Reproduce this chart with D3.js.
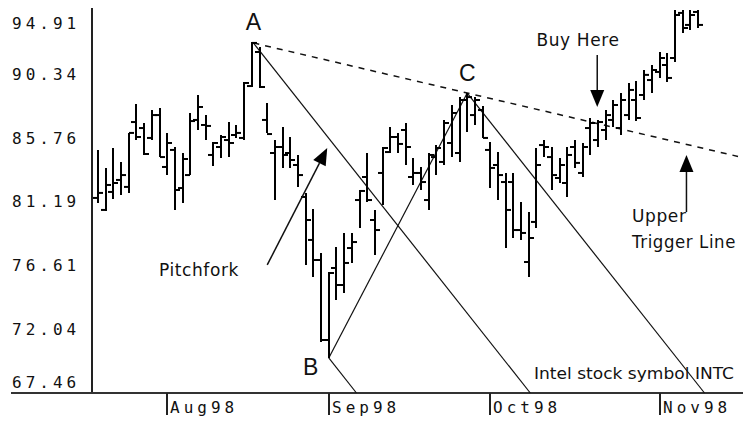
<!DOCTYPE html>
<html>
<head>
<meta charset="utf-8">
<script src="https://cdn.jsdelivr.net/npm/d3@7"></script>
<style>
  body { margin: 0; background: #fff; }
  .tickText { font-family: "DejaVu Sans Mono", monospace; font-size: 16px; letter-spacing: 4px; fill: #111; }
  .note { font-family: "DejaVu Sans", sans-serif; font-size: 17px; letter-spacing: 0.6px; fill: #111; }
  .pivot { font-family: "Liberation Sans", Arial, sans-serif; font-size: 23px; fill: #111; }
</style>
</head>
<body>
<div class="chart"></div>
<script>
var svgWidth = 743;
var svgHeight = 421;

// daily INTC bars, Jul 21 - Nov 9 1998
var opens = [81.44, 80.58, 81.87, 82.73, 82.23, 86.88, 86.45, 85.74, 87.38, 83.66,
  84.88, 82.15, 83.08, 87.03, 86.67, 84.52, 85.09, 85.59, 85.95, 85.74,
  89.46, 91.90, 87.03, 84.66, 85.09, 84.66, 83.80, 81.51, 78.43, 76.99,
  71.26, 76.42, 75.20, 77.85, 81.29, 82.94, 79.86, 83.23, 84.73, 85.81,
  86.31, 82.94, 83.23, 81.29, 84.37, 84.02, 85.38, 84.66, 88.46, 87.38,
  87.74, 84.88, 83.80, 82.58, 82.58, 79.14, 76.85, 79.72, 85.23, 84.37,
  82.87, 82.51, 85.09, 83.23, 86.45, 85.59,
  86.31, 87.03, 86.45, 87.38, 88.46, 88.82, 89.89, 90.47, 90.97, 91.47, 94.70, 93.84, 94.77];
var highs = [84.88, 83.59, 85.02, 84.02, 86.10, 88.17, 86.81, 87.74, 87.89, 86.10,
  85.09, 84.66, 87.53, 88.82, 87.38, 85.45, 85.95, 86.88, 86.67, 89.75,
  92.62, 92.26, 88.24, 85.59, 86.52, 85.81, 84.52, 81.80, 80.65, 77.50,
  76.13, 77.92, 78.93, 78.93, 82.01, 84.66, 80.58, 85.09, 86.52, 86.10,
  86.81, 84.30, 83.66, 84.66, 85.23, 87.03, 88.10, 88.67, 88.96, 88.67,
  88.03, 85.45, 84.73, 83.23, 83.23, 81.15, 80.44, 85.02, 85.59, 85.09,
  84.30, 85.09, 85.59, 85.38, 87.17, 87.03,
  87.74, 88.46, 88.96, 89.68, 89.82, 90.61, 90.97, 91.90, 91.83, 94.91, 94.91, 94.91, 94.91];
var lows = [81.08, 80.51, 81.36, 81.65, 81.80, 85.59, 84.52, 85.59, 84.37, 83.08,
  80.58, 81.08, 83.08, 86.31, 85.59, 83.73, 84.30, 84.37, 85.74, 85.59,
  89.39, 89.32, 86.10, 81.29, 83.59, 83.59, 82.23, 76.64, 75.78, 71.12,
  69.97, 74.13, 74.63, 76.78, 79.29, 81.15, 77.35, 80.94, 84.66, 84.66,
  83.80, 82.37, 82.01, 80.58, 83.08, 83.80, 84.37, 84.02, 86.17, 86.67,
  85.74, 82.15, 81.29, 77.85, 78.57, 78.43, 75.78, 79.29, 84.37, 82.01,
  82.51, 81.51, 83.59, 82.94, 84.52, 85.09,
  85.59, 86.52, 85.95, 87.03, 86.95, 88.46, 88.96, 90.04, 89.75, 91.19, 93.26, 93.48, 93.62];
var closes = [81.80, 82.37, 82.51, 83.08, 86.10, 85.81, 84.59, 87.38, 84.37, 85.38,
  82.01, 84.23, 86.95, 87.96, 86.60, 85.38, 85.81, 85.38, 86.10, 89.68,
  92.55, 89.39, 86.02, 85.09, 84.52, 84.16, 83.08, 79.86, 76.99, 71.26,
  76.06, 75.20, 76.78, 78.28, 81.94, 81.29, 79.14, 85.02, 85.81, 85.31,
  85.09, 83.23, 82.58, 84.52, 85.02, 86.81, 87.53, 88.46, 88.67, 88.46,
  85.74, 83.59, 83.08, 80.58, 79.14, 78.93, 78.57, 83.80, 85.09, 83.08,
  83.80, 84.52, 83.95, 85.09, 86.81, 86.88,
  87.38, 88.10, 88.46, 89.18, 87.17, 90.26, 90.61, 91.47, 90.04, 94.55, 93.62, 94.55, 93.84];

var monthLabels = ["Aug98", "Sep98", "Oct98", "Nov98"];
var monthStarts = [9, 30, 51, 73];
var yTicks = [94.91, 90.34, 85.76, 81.19, 76.61, 72.04, 67.46];

// pitchfork pivots (bar index, price)
var pivotNames = ["A", "B", "C"];
var pivotIndex = [20.2, 30, 48];
var pivotPrice = [92.55, 69.97, 88.96];
var tineSlope = -0.697;   // price per bar
var triggerEndIndex = 83.2;

var bars = opens.map(function(o, i) {
  return {i: i, open: o, high: highs[i], low: lows[i], close: closes[i]};
});

var svg = d3.select(".chart")
  .append("svg")
  .attr("width", svgWidth)
  .attr("height", svgHeight);

var x = d3.scaleLinear().domain([0, 78]).range([98, 698]);
var y = d3.scaleLinear().domain([67.46, 94.91]).range([393, 10]);

// axes
svg.append("line").attr("x1", 92).attr("x2", 92).attr("y1", 8).attr("y2", 393)
  .attr("stroke", "#222").attr("stroke-width", 2);
svg.append("line").attr("x1", 11).attr("x2", 743).attr("y1", 393).attr("y2", 393)
  .attr("stroke", "#333").attr("stroke-width", 2);

svg.selectAll(".ytick")
  .data(yTicks)
  .enter()
  .append("text")
  .attr("class", "tickText")
  .attr("x", 12)
  .attr("y", d => Math.min(Math.max(y(d), 23), 382) + 6)
  .text(d => d.toFixed(2));

var months = svg.selectAll(".month")
  .data(monthStarts)
  .enter()
  .append("g")
  .attr("transform", d => `translate(${Math.round(x(d))}, 393)`);
months.append("line").attr("y1", 0).attr("y2", 22).attr("stroke", "#222").attr("stroke-width", 2);
months.append("text").attr("class", "tickText").attr("x", 3).attr("y", 20)
  .text((d, i) => monthLabels[i]);

// pitchfork lines
var lines = svg.append("g").attr("stroke", "#111").attr("fill", "none");
var P = pivotNames.map((n, k) => ({name: n, i: pivotIndex[k], v: pivotPrice[k]}));

P.forEach(function(p) {
  var endI = p.i + (67.46 - p.v) / tineSlope;
  lines.append("line")
    .attr("x1", x(p.i)).attr("y1", y(p.v))
    .attr("x2", x(endI)).attr("y2", y(67.46))
    .attr("stroke-width", 1.2);
});

lines.append("line")
  .attr("x1", x(P[1].i)).attr("y1", y(P[1].v))
  .attr("x2", x(P[2].i)).attr("y2", y(P[2].v))
  .attr("stroke-width", 1.2);

var trigSlope = (P[2].v - P[0].v) / (P[2].i - P[0].i);
lines.append("line")
  .attr("x1", x(P[0].i)).attr("y1", y(P[0].v))
  .attr("x2", x(triggerEndIndex)).attr("y2", y(P[0].v + trigSlope * (triggerEndIndex - P[0].i)))
  .attr("stroke-width", 1.5)
  .attr("stroke-dasharray", "6,6");

// OHLC bars
var barG = svg.append("g").attr("stroke", "#000").attr("stroke-width", 2);
var bar = barG.selectAll("g")
  .data(bars)
  .enter()
  .append("g")
  .attr("transform", d => `translate(${Math.round(x(d.i))}, 0)`);
bar.append("line").attr("y1", d => y(d.high)).attr("y2", d => y(d.low));
bar.append("line").attr("x1", -5).attr("x2", 0).attr("y1", d => y(d.open)).attr("y2", d => y(d.open));
bar.append("line").attr("x1", 0).attr("x2", 5).attr("y1", d => y(d.close)).attr("y2", d => y(d.close));

// pivot letters
var labelOffset = {A: [0, -13], B: [-18, 17], C: [0, -12]};
svg.selectAll(".pivot")
  .data(P)
  .enter()
  .append("text")
  .attr("class", "pivot")
  .attr("text-anchor", "middle")
  .attr("x", d => x(d.i) + labelOffset[d.name][0])
  .attr("y", d => y(d.v) + labelOffset[d.name][1])
  .text(d => d.name);

// callout arrows
function arrow(i1, v1, i2, v2) {
  var x1 = x(i1), y1 = y(v1), x2 = x(i2), y2 = y(v2);
  var a = Math.atan2(y2 - y1, x2 - x1);
  var len = 17, half = 7;
  var bx = x2 - len * Math.cos(a), by = y2 - len * Math.sin(a);
  svg.append("line").attr("x1", x1).attr("y1", y1).attr("x2", bx).attr("y2", by)
    .attr("stroke", "#111").attr("stroke-width", 1.5);
  svg.append("path")
    .attr("d", `M${x2},${y2}L${bx + half * Math.sin(a)},${by - half * Math.cos(a)}L${bx - half * Math.sin(a)},${by + half * Math.cos(a)}Z`)
    .attr("fill", "#000");
}
arrow(22.0, 76.64, 29.8, 85.02);
arrow(64.9, 91.69, 64.9, 87.96);
arrow(76.5, 80.43, 76.5, 84.52);

svg.append("text").attr("class", "note").attr("x", 199).attr("y", 276).attr("text-anchor", "middle").text("Pitchfork");
svg.append("text").attr("class", "note").attr("x", 578).attr("y", 46).attr("text-anchor", "middle").text("Buy Here");
svg.append("text").attr("class", "note").attr("x", 632).attr("y", 222).text("Upper");
svg.append("text").attr("class", "note").attr("x", 632).attr("y", 248)
  .attr("textLength", 104).attr("lengthAdjust", "spacingAndGlyphs").text("Trigger Line");
svg.append("text").attr("class", "note").attr("x", 534).attr("y", 379)
  .style("letter-spacing", "0px").style("font-size", "16.5px")
  .attr("textLength", 200).attr("lengthAdjust", "spacingAndGlyphs").text("Intel stock symbol INTC");
</script>
</body>
</html>
